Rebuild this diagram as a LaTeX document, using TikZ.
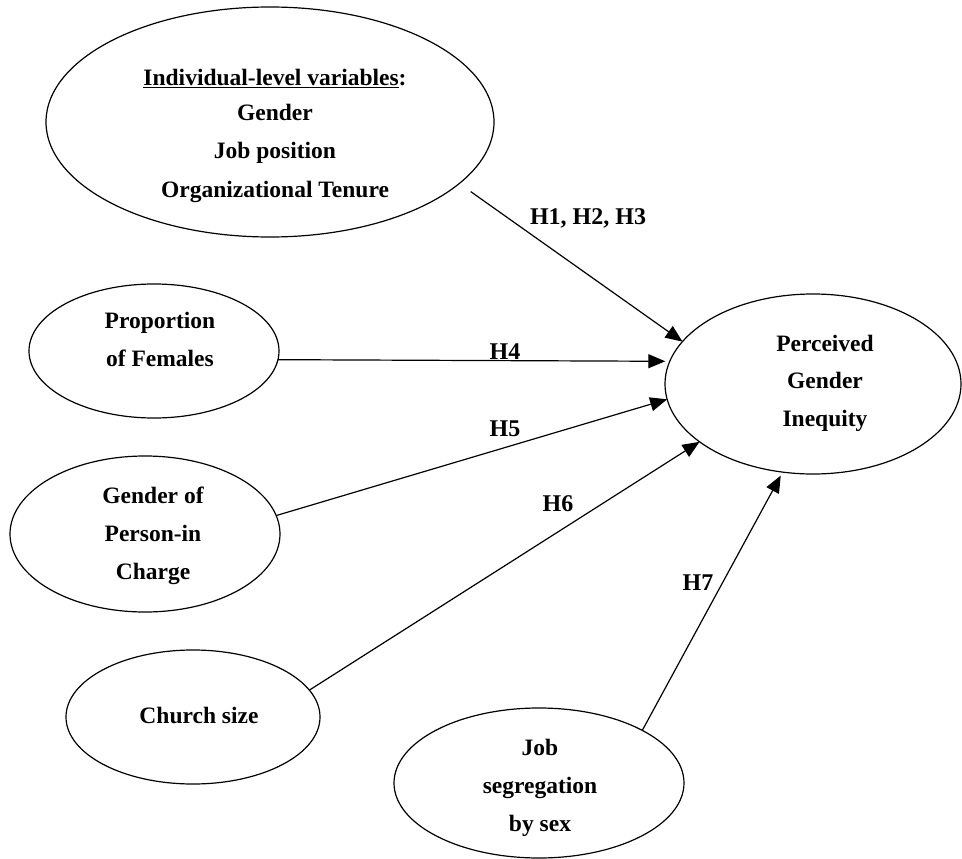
\documentclass[tikz,border=0pt]{standalone}
\usepackage{fontspec}
\setmainfont{Liberation Serif}
\usetikzlibrary{arrows.meta,shapes.geometric}
\begin{document}
\begin{tikzpicture}[x=1pt,y=-1pt,
  ell/.style={draw,ellipse,line width=1.2pt,inner sep=0pt,outer sep=0pt},
  lbl/.style={font=\bfseries\fontsize{23.5}{38}\selectfont,align=center,inner sep=0pt},
  hyp/.style={font=\bfseries\fontsize{24}{28}\selectfont,inner sep=0pt,anchor=base},
  link/.style={line width=1.2pt,-{Triangle[length=17pt,width=14pt]}}]
\useasboundingbox (0,0) rectangle (962,859);
% ellipses
\node[ell,minimum width=448pt,minimum height=230pt] (ind) at (270,122) {};
\node[ell,minimum width=250pt,minimum height=134pt] (pfem) at (154,351) {};
\node[ell,minimum width=270pt,minimum height=156pt] (gpc) at (145,534) {};
\node[ell,minimum width=254pt,minimum height=134pt] (csz) at (193,717) {};
\node[ell,minimum width=290pt,minimum height=150pt] (jsg) at (539,783) {};
\node[ell,minimum width=296pt,minimum height=180pt] (pgi) at (813,384) {};
% texts
\node[lbl,font=\bfseries\fontsize{23.5}{38.5}\selectfont] (indt) at (275,134)
  {\underline{Individual-level variables}:\strut\\[-4pt]
   Gender\strut\\ Job position\strut\\ Organizational Tenure\strut};
\node[lbl] (pfemt) at (160,340) {Proportion\strut\\ of Females\strut};
\node[lbl] (gpct) at (153,534) {Gender of\strut\\ Person-in\strut\\ Charge\strut};
\node[lbl] (cszt) at (199,716) {Church size\strut};
\node[lbl] (jsgt) at (540,786) {Job\strut\\ segregation\strut\\ by sex\strut};
\node[lbl,font=\bfseries\fontsize{23.5}{37.5}\selectfont] (pgit) at (825,381)
  {Perceived\strut\\ Gender\strut\\ Inequity\strut};
% connectors
\draw[link,shorten <=14pt] (ind.-18.1) -- (pgi.162.1);
\draw[link,shorten >=4.5pt] (pfem.-4.6) -- (pgi.171.2);
\draw[link] (gpc.8.1) -- (pgi.-174.6);
\draw[link] (csz.13.1) -- (pgi.-153.9);
\draw[link,shorten >=4pt] (jsg.27.8) -- (pgi.-109);
% hypothesis labels
\node[hyp] (h123) at (588,224) {H1, H2, H3};
\node[hyp] (h4) at (505,359) {H4};
\node[hyp] (h5) at (505,436) {H5};
\node[hyp] (h6) at (558,511) {H6};
\node[hyp] (h7) at (698,590) {H7};
\end{tikzpicture}
\end{document}
